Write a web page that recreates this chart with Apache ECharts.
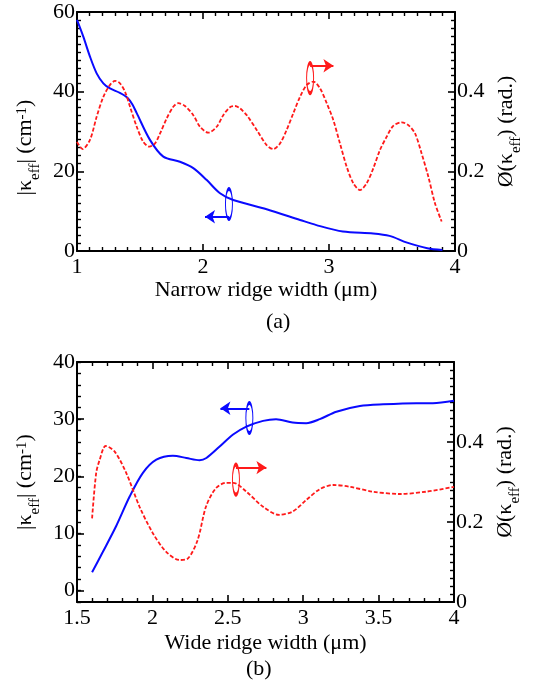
<!DOCTYPE html>
<html>
<head>
<meta charset="utf-8">
<script src="https://cdn.jsdelivr.net/npm/echarts@6/dist/echarts.min.js"></script>
<style>
  html, body { margin: 0; padding: 0; background: #fff; }
  #chart { width: 533px; height: 683px; }
</style>
</head>
<body>
<div id="chart"></div>
<script>
// (a) narrow ridge
const narrowWidthK = [1.0, 1.05, 1.103, 1.156, 1.209, 1.262, 1.34, 1.4, 1.44, 1.474, 1.579, 1.685, 1.817, 1.923, 2.03, 2.135, 2.24, 2.505, 2.77, 2.9, 3.11, 3.35, 3.48, 3.62, 3.78, 3.9]
const narrowKappa = [58.0, 53.8, 48.8, 44.6, 42.1, 40.8, 39.7, 38.5, 36.8, 34.6, 27.9, 23.7, 22.4, 20.8, 17.8, 14.5, 12.8, 10.5, 7.8, 6.5, 4.9, 4.4, 3.8, 2.1, 0.7, 0.25]
const narrowWidthP = [1.0, 1.045, 1.103, 1.156, 1.209, 1.262, 1.302, 1.341, 1.381, 1.421, 1.474, 1.526, 1.574, 1.619, 1.659, 1.712, 1.764, 1.804, 1.857, 1.923, 1.976, 2.042, 2.109, 2.161, 2.214, 2.254, 2.294, 2.347, 2.426, 2.505, 2.558, 2.611, 2.664, 2.717, 2.77, 2.823, 2.876, 2.929, 2.982, 3.034, 3.087, 3.14, 3.193, 3.246, 3.299, 3.352, 3.405, 3.458, 3.51, 3.577, 3.63, 3.683, 3.735, 3.788, 3.841, 3.894]
const narrowPhase = [0.274, 0.256, 0.279, 0.337, 0.387, 0.417, 0.427, 0.421, 0.4, 0.362, 0.312, 0.274, 0.262, 0.27, 0.295, 0.333, 0.362, 0.371, 0.364, 0.341, 0.312, 0.297, 0.312, 0.341, 0.361, 0.364, 0.358, 0.341, 0.304, 0.266, 0.256, 0.27, 0.304, 0.346, 0.387, 0.417, 0.425, 0.408, 0.371, 0.329, 0.27, 0.212, 0.17, 0.153, 0.17, 0.208, 0.254, 0.287, 0.314, 0.323, 0.316, 0.295, 0.245, 0.187, 0.12, 0.074]

// (b) wide ridge
const wideWidthK = [1.6, 1.67, 1.76, 1.85, 1.937, 2.026, 2.136, 2.225, 2.313, 2.358, 2.446, 2.535, 2.623, 2.734, 2.82, 2.93, 3.02, 3.11, 3.22, 3.376, 3.53, 3.75, 3.86, 4.0]
const wideKappa = [3.2, 6.7, 11.3, 16.5, 20.6, 22.9, 23.6, 23.2, 22.8, 23.2, 25.2, 27.3, 28.7, 29.7, 30.0, 29.4, 29.3, 30.0, 31.3, 32.3, 32.6, 32.8, 32.8, 33.2]
const wideWidthP = [1.6, 1.627, 1.65, 1.69, 1.75, 1.827, 1.915, 2.003, 2.09, 2.18, 2.236, 2.3, 2.355, 2.42, 2.49, 2.535, 2.623, 2.734, 2.84, 2.93, 3.02, 3.11, 3.2, 3.31, 3.46, 3.64, 3.82, 4.0]
const widePhase = [0.209, 0.322, 0.355, 0.39, 0.376, 0.322, 0.238, 0.172, 0.126, 0.105, 0.109, 0.155, 0.238, 0.284, 0.298, 0.298, 0.276, 0.238, 0.218, 0.226, 0.255, 0.282, 0.2925, 0.288, 0.276, 0.27, 0.276, 0.288]

// tick labels
const wideKappaTicks = [0, 10, 20, 30, 40]

// ellipse + arrow markers (data units): centre, arrow y, arrow tip x
const markNarrowK = { at: [2.206, 11.8], arrowY: 8.6, tipX: 2.016 }
const markNarrowP = { at: [2.85, 0.434], arrowY: 0.465, tipX: 3.035 }
const markWideK = { at: [2.643, 30.2], arrowY: 31.9, tipX: 2.451 }
const markWideP = { at: [2.554, 0.306], arrowY: 0.336, tipX: 2.756 }

const FONT = 'Liberation Serif'
const BLUE = '#0a0aff'
const RED = '#ff1a1a'

function pairs(xs, ys) {
  return xs.map((x, i) => [x, ys[i]])
}

const axisLine = { onZero: false, lineStyle: { color: '#000', width: 2 } }
const majorTick = { show: true, inside: true, length: 7, lineStyle: { color: '#000', width: 1.6 } }
const minorTick = (n) => ({ show: true, splitNumber: n, length: 4, lineStyle: { color: '#000', width: 1.4 } })
const tickLabel = { color: '#000', fontFamily: FONT, fontSize: 22 }

const rich = {
  k: { fontFamily: FONT, fontSize: 22, color: '#000' },
  sub: { fontFamily: FONT, fontSize: 15, color: '#000', verticalAlign: 'bottom', padding: [0, 0, -6, 0] },
  sup: { fontFamily: FONT, fontSize: 15, color: '#000', verticalAlign: 'top' }
}

function marker(m, color) {
  return {
    markPoint: {
      silent: true,
      animation: false,
      label: { show: false },
      data: [{
        coord: m.at,
        symbol: 'circle',
        symbolSize: [7, 30],
        itemStyle: { color: 'rgba(0,0,0,0)', borderColor: color, borderWidth: 2 }
      }]
    },
    markLine: {
      silent: true,
      animation: false,
      symbol: ['none', 'arrow'],
      symbolSize: 10,
      label: { show: false },
      lineStyle: { color: color, width: 2, type: 'solid' },
      data: [[{ coord: [m.at[0], m.arrowY] }, { coord: [m.tipX, m.arrowY] }]]
    }
  }
}

const chart = echarts.init(document.getElementById('chart'))

chart.setOption({
  animation: false,
  backgroundColor: '#fff',
  grid: [
    { left: 77, right: 78, top: 12, height: 239, outerBoundsMode: 'none' },
    { left: 77, right: 79, top: 362, height: 240, outerBoundsMode: 'none' }
  ],
  xAxis: [
    {
      gridIndex: 0, type: 'value', position: 'bottom', min: 1, max: 4, interval: 1,
      axisLine, axisTick: majorTick, minorTick: minorTick(10), splitLine: { show: false },
      axisLabel: { ...tickLabel, margin: 5 },
      name: 'Narrow ridge width (μm)', nameLocation: 'middle', nameGap: 27,
      nameTextStyle: { fontFamily: FONT, fontSize: 22, color: '#000' }
    },
    {
      gridIndex: 0, type: 'value', position: 'top', min: 1, max: 4, interval: 1,
      axisLine, axisTick: majorTick, minorTick: minorTick(10), splitLine: { show: false },
      axisLabel: { show: false }
    },
    {
      gridIndex: 1, type: 'value', position: 'bottom', min: 1.5, max: 4, interval: 0.5,
      axisLine, axisTick: majorTick, minorTick: minorTick(5), splitLine: { show: false },
      axisLabel: { ...tickLabel, margin: 5 },
      name: 'Wide ridge width (μm)', nameLocation: 'middle', nameGap: 30,
      nameTextStyle: { fontFamily: FONT, fontSize: 22, color: '#000' }
    },
    {
      gridIndex: 1, type: 'value', position: 'top', min: 1.5, max: 4, interval: 0.5,
      axisLine, axisTick: majorTick, minorTick: minorTick(5), splitLine: { show: false },
      axisLabel: { show: false }
    }
  ],
  yAxis: [
    {
      gridIndex: 0, type: 'value', position: 'left', min: 0, max: 60, interval: 20,
      axisLine, axisTick: majorTick, minorTick: minorTick(10), splitLine: { show: false },
      axisLabel: { ...tickLabel, margin: 2 },
      name: '|{k|κ}{sub|eff}| (cm{sup|-1})', nameLocation: 'middle', nameRotate: 90, nameGap: 36,
      nameTextStyle: { fontFamily: FONT, fontSize: 22, color: '#000', rich, padding: [0, 32, 0, 0] }
    },
    {
      gridIndex: 0, type: 'value', position: 'right', min: 0, max: 0.6, interval: 0.2,
      axisLine, axisTick: majorTick, minorTick: minorTick(10), splitLine: { show: false },
      axisLabel: { ...tickLabel, margin: 2, showMaxLabel: false },
      name: 'Ø({k|κ}{sub|eff}) (rad.)', nameLocation: 'middle', nameRotate: 90, nameGap: 40,
      nameTextStyle: { fontFamily: FONT, fontSize: 22, color: '#000', rich }
    },
    {
      gridIndex: 1, type: 'value', position: 'left', min: -2, max: 40,
      axisLine, axisTick: { ...majorTick, customValues: wideKappaTicks }, splitLine: { show: false },
      axisLabel: { ...tickLabel, margin: 2, customValues: wideKappaTicks },
      name: '|{k|κ}{sub|eff}| (cm{sup|-1})', nameLocation: 'middle', nameRotate: 90, nameGap: 36,
      nameTextStyle: { fontFamily: FONT, fontSize: 22, color: '#000', rich }
    },
    {
      gridIndex: 1, type: 'value', position: 'left', min: -2, max: 40, interval: 2,
      axisLine: { show: false, onZero: false },
      axisTick: { show: true, inside: true, length: 4, lineStyle: { color: '#000', width: 1.4 } },
      splitLine: { show: false }, axisLabel: { show: false }
    },
    {
      gridIndex: 1, type: 'value', position: 'right', min: 0, max: 0.6, interval: 0.2,
      axisLine, axisTick: majorTick, minorTick: minorTick(10), splitLine: { show: false },
      axisLabel: { ...tickLabel, margin: 2, showMaxLabel: false },
      name: 'Ø({k|κ}{sub|eff}) (rad.)', nameLocation: 'middle', nameRotate: 90, nameGap: 40,
      nameTextStyle: { fontFamily: FONT, fontSize: 22, color: '#000', rich }
    }
  ],
  graphic: [
    { type: 'text', left: 266, top: 311, style: { text: '(a)', fontFamily: FONT, fontSize: 22, fill: '#000' } },
    { type: 'text', left: 246, top: 658, style: { text: '(b)', fontFamily: FONT, fontSize: 22, fill: '#000' } }
  ],
  series: [
    {
      type: 'line', xAxisIndex: 0, yAxisIndex: 0, data: pairs(narrowWidthK, narrowKappa),
      showSymbol: false, smooth: 0.3, silent: true,
      lineStyle: { color: BLUE, width: 2 },
      ...marker(markNarrowK, BLUE)
    },
    {
      type: 'line', xAxisIndex: 0, yAxisIndex: 1, data: pairs(narrowWidthP, narrowPhase),
      showSymbol: false, smooth: 0.3, silent: true,
      lineStyle: { color: RED, width: 1.8, type: [4, 2] },
      ...marker(markNarrowP, RED)
    },
    {
      type: 'line', xAxisIndex: 2, yAxisIndex: 2, data: pairs(wideWidthK, wideKappa),
      showSymbol: false, smooth: 0.3, silent: true,
      lineStyle: { color: BLUE, width: 2 },
      ...marker(markWideK, BLUE)
    },
    {
      type: 'line', xAxisIndex: 2, yAxisIndex: 4, data: pairs(wideWidthP, widePhase),
      showSymbol: false, smooth: 0.3, silent: true,
      lineStyle: { color: RED, width: 1.8, type: [4, 2] },
      ...marker(markWideP, RED)
    }
  ]
})
</script>
</body>
</html>
